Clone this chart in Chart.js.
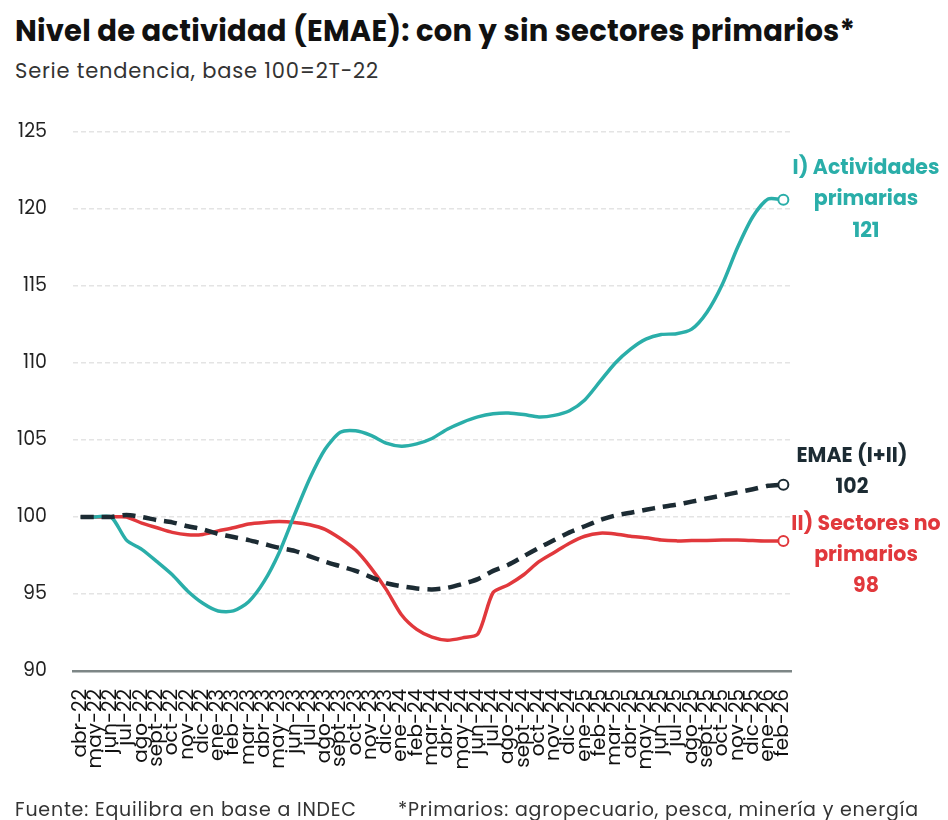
<!DOCTYPE html>
<html lang="es">
<head>
<meta charset="utf-8">
<title>Nivel de actividad (EMAE)</title>
<script src="https://cdn.jsdelivr.net/npm/chart.js@4.4.1/dist/chart.umd.min.js"></script>
<style>
  html, body { margin: 0; padding: 0; background: #fff; }
  body { width: 948px; height: 820px; position: relative; overflow: hidden;
         font-family: Poppins, "Open Sans", sans-serif; }
  #grafico { position: absolute; left: 0; top: 0; }
  .txt { position: absolute; white-space: nowrap; }
  #titulo { left: 15px; top: 10px; font-size: 29px; font-weight: 700; color: #111; letter-spacing: 0.2px; }
  #subtitulo { left: 15px; top: 55px; font-size: 21px; color: #333; letter-spacing: 0.8px; }
  #fuente { left: 15px; top: 795px; font-size: 19px; color: #333; letter-spacing: 0.8px; }
  #nota { left: 398px; top: 795px; font-size: 19px; color: #333; letter-spacing: 0.8px; }
</style>
</head>
<body>
<div id="titulo" class="txt">Nivel de actividad (EMAE): con y sin sectores primarios*</div>
<div id="subtitulo" class="txt">Serie tendencia, base 100=2T-22</div>
<canvas id="grafico" width="948" height="820"></canvas>
<div id="fuente" class="txt">Fuente: Equilibra en base a INDEC</div>
<div id="nota" class="txt">*Primarios: agropecuario, pesca, minería y energía</div>

<script>
/* Datos (serie tendencia, base 100 = 2T-22) */
var meses = ['abr-22','may-22','jun-22','jul-22','ago-22','sept-22','oct-22','nov-22','dic-22',
  'ene-23','feb-23','mar-23','abr-23','may-23','jun-23','jul-23','ago-23','sept-23','oct-23','nov-23','dic-23',
  'ene-24','feb-24','mar-24','abr-24','may-24','jun-24','jul-24','ago-24','sept-24','oct-24','nov-24','dic-24',
  'ene-25','feb-25','mar-25','abr-25','may-25','jun-25','jul-25','ago-25','sept-25','oct-25','nov-25','dic-25',
  'ene-26','feb-26'];

var primarias = [100, 100, 100, 98.5, 97.9, 97.1, 96.25, 95.2, 94.4,
  93.9, 93.9, 94.5, 95.8, 97.7, 100.15, 102.5, 104.4, 105.5, 105.6, 105.3, 104.8,
  104.6, 104.75, 105.1, 105.7, 106.15, 106.5, 106.7, 106.75, 106.65, 106.5, 106.6, 106.9,
  107.6, 108.8, 110.0, 110.9, 111.55, 111.85, 111.9, 112.2, 113.3, 115.1, 117.5, 119.5,
  120.65, 120.6];

var noPrimarios = [100, 100, 100, 100, 99.6, 99.3, 99.0, 98.85, 98.87,
  99.1, 99.3, 99.55, 99.65, 99.7, 99.65, 99.5, 99.2, 98.6, 97.85, 96.7, 95.3,
  93.65, 92.7, 92.2, 92.0, 92.15, 92.4, 95.1, 95.6, 96.25, 97.1, 97.7, 98.3,
  98.75, 98.95, 98.9, 98.75, 98.65, 98.5, 98.45, 98.47, 98.48, 98.5, 98.5, 98.47,
  98.44, 98.44];

var emae = [100, 100, 100, 100.13, 100.0, 99.8, 99.65, 99.4, 99.2,
  98.9, 98.7, 98.5, 98.25, 98.0, 97.8, 97.45, 97.1, 96.8, 96.5, 96.1, 95.7,
  95.5, 95.36, 95.3, 95.4, 95.65, 95.97, 96.5, 96.9, 97.45, 98.0, 98.5, 99.0,
  99.4, 99.8, 100.1, 100.28, 100.47, 100.65, 100.8, 101.0, 101.2, 101.4, 101.6, 101.8,
  102.03, 102.1];

var ticksY = [90, 95, 100, 105, 110, 115, 120, 125];

/* Etiquetas al final de cada serie */
var etiquetas = [
  { lineas: ['EMAE (I+II)', '102'], color: '#1c2b33', cx: 852, dy: [-28, 3] },
  { lineas: ['I) Actividades', 'primarias', '121'], color: '#2aaea9', cx: 866, dy: [-31, 0, 32] },
  { lineas: ['II) Sectores no', 'primarios', '98'], color: '#e1383c', cx: 866, dy: [-16, 15, 46] }
];

const fuente = 'Poppins, "Open Sans", sans-serif';
const ultimo = meses.length - 1;

function radioFinal(ctx) { return ctx.dataIndex === ultimo ? 5 : 0; }

/* plugin que escribe el nombre y valor de cada serie a la derecha */
const etiquetasFinales = {
  id: 'etiquetasFinales',
  afterDatasetsDraw(chart) {
    const c = chart.ctx;
    c.save();
    c.textAlign = 'center';
    c.textBaseline = 'middle';
    c.font = 'bold 20.5px ' + fuente;
    etiquetas.forEach(function (et, i) {
      const pt = chart.getDatasetMeta(i).data[ultimo];
      c.fillStyle = et.color;
      et.lineas.forEach(function (txt, j) {
        c.fillText(txt, et.cx, pt.y + et.dy[j]);
      });
    });
    c.restore();
  }
};

const ctx = document.getElementById('grafico');

const grafico = new Chart(ctx, {
  type: 'line',
  data: {
    labels: meses,
    datasets: [{
      label: 'EMAE (I+II)',
      data: emae,
      borderColor: '#1c2b33',
      borderWidth: 4.5,
      borderDash: [13, 8],
      pointRadius: radioFinal,
      pointBackgroundColor: '#fff',
      pointBorderColor: '#1c2b33',
      pointBorderWidth: 2,
      tension: 0.25
    }, {
      label: 'I) Actividades primarias',
      data: primarias,
      borderColor: '#2aaea9',
      borderWidth: 3.5,
      pointRadius: radioFinal,
      pointBackgroundColor: '#fff',
      pointBorderColor: '#2aaea9',
      pointBorderWidth: 2,
      tension: 0.25
    }, {
      label: 'II) Sectores no primarios',
      data: noPrimarios,
      borderColor: '#e1383c',
      borderWidth: 3.5,
      pointRadius: radioFinal,
      pointBackgroundColor: '#fff',
      pointBorderColor: '#e1383c',
      pointBorderWidth: 2,
      tension: 0.25
    }]
  },
  options: {
    responsive: false,
    animation: false,
    events: [],
    layout: { padding: { top: 132, right: 157, left: 0, bottom: 0 } },
    plugins: { legend: { display: false }, tooltip: { enabled: false } },
    scales: {
      x: {
        offset: true,
        grid: { display: false, drawTicks: false },
        border: { display: true, color: '#7d8686', width: 2.5 },
        ticks: {
          autoSkip: false,
          minRotation: 90,
          maxRotation: 90,
          padding: 18,
          color: '#111',
          font: { family: fuente, size: 20 }
        },
        afterFit: function (scale) { scale.height = 149; }
      },
      y: {
        min: 90,
        max: 125,
        afterBuildTicks: function (scale) {
          scale.ticks = ticksY.map(function (v) { return { value: v }; });
        },
        grid: { color: '#e4e4e4', lineWidth: 1.5, drawTicks: false },
        border: { display: false, dash: [5, 3] },
        ticks: {
          padding: 26,
          color: '#222',
          font: { family: fuente, size: 19 }
        },
        afterFit: function (scale) { scale.width = 73; }
      }
    }
  },
  plugins: [etiquetasFinales]
});
</script>
</body>
</html>
